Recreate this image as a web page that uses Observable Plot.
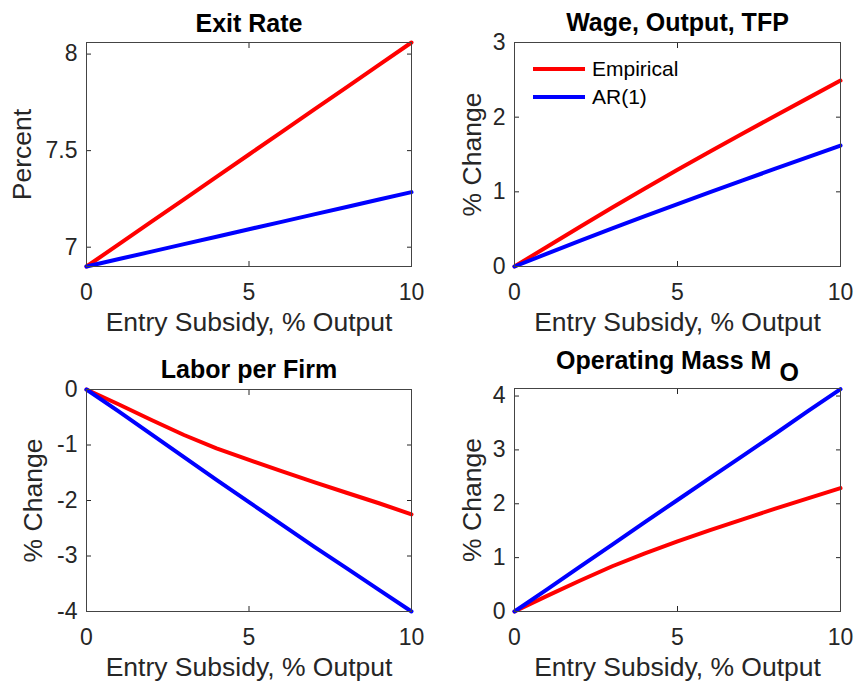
<!DOCTYPE html>
<html>
<head>
<meta charset="utf-8">
<script src="https://cdn.jsdelivr.net/npm/d3@7"></script>
<script src="https://cdn.jsdelivr.net/npm/@observablehq/plot@0.6"></script>
<style>
body { margin: 0; background: #fff; font-family: "Liberation Sans", Arial, sans-serif; }
#fig { position: relative; width: 857px; height: 681px; overflow: hidden; }
#fig svg { position: absolute; overflow: visible; }
.legend { position: absolute; font-size: 21px; color: #000; }
.legend .row { display: flex; align-items: center; height: 28px; }
.legend svg { position: static !important; margin-right: 7px; }
</style>
</head>
<body>
<div id="fig"></div>
<script>
// x values: entry subsidy, % of output
const subsidy = [0, 1, 2, 3, 4, 5, 6, 7, 8, 9, 10];
const seriesNames = ["Empirical", "AR(1)"];
const seriesColors = ["#ff0000", "#0000ff"];

// values
const exitEmpirical = [6.900, 7.016, 7.132, 7.248, 7.364, 7.480, 7.596, 7.712, 7.828, 7.944, 8.060];
const exitAR1 = [6.900, 6.939, 6.977, 7.016, 7.054, 7.093, 7.131, 7.170, 7.208, 7.247, 7.285];
const wageEmpirical = [0, 0.265, 0.53, 0.79, 1.045, 1.295, 1.54, 1.78, 2.02, 2.255, 2.49];
const wageAR1 = [0, 0.172, 0.342, 0.51, 0.675, 0.837, 0.996, 1.153, 1.31, 1.465, 1.62];
const laborEmpirical = [0, -0.27, -0.55, -0.82, -1.06, -1.27, -1.47, -1.67, -1.86, -2.05, -2.25];
const laborAR1 = [0, -0.40, -0.81, -1.22, -1.63, -2.03, -2.43, -2.83, -3.22, -3.61, -4.0];
const massEmpirical = [0, 0.29, 0.57, 0.84, 1.08, 1.30, 1.51, 1.71, 1.91, 2.10, 2.29];
const massAR1 = [0, 0.41, 0.83, 1.24, 1.66, 2.07, 2.48, 2.89, 3.30, 3.72, 4.13];

const xTicks = [0, 5, 10];
const xLabel = "Entry Subsidy, % Output";

const panels = [
  {left: 0, top: 0, title: "Exit Rate", ylabel: "Percent", yDomain: [6.9, 8.06], yTicks: [7, 7.5, 8],
   emp: exitEmpirical, ar: exitAR1, mt: 42, mb: 74, ml: 86, mr: 19, titleDy: -19, ylabDx: -64},
  {left: 430, top: 0, title: "Wage, Output, TFP", ylabel: "% Change", yDomain: [0, 3], yTicks: [0, 1, 2, 3],
   emp: wageEmpirical, ar: wageAR1, mt: 42, mb: 74, ml: 84, mr: 20, titleDy: -20, ylabDx: -42, legend: true},
  {left: 0, top: 340, title: "Labor per Firm", ylabel: "% Change", yDomain: [-4, 0], yTicks: [-4, -3, -2, -1, 0],
   emp: laborEmpirical, ar: laborAR1, mt: 49, mb: 69, ml: 86, mr: 19, titleDy: -20, ylabDx: -53},
  {left: 430, top: 340, title: "Operating Mass M", sub: "O", ylabel: "% Change", yDomain: [0, 4.14], yTicks: [0, 1, 2, 3, 4],
   emp: massEmpirical, ar: massAR1, mt: 48, mb: 69, ml: 84, mr: 20, titleDy: -28, ylabDx: -42}
];

const fig = d3.select("#fig");

panels.forEach(p => {
  const rows = [];
  subsidy.forEach((x, i) => rows.push({x, y: p.emp[i], series: seriesNames[0]}));
  subsidy.forEach((x, i) => rows.push({x, y: p.ar[i], series: seriesNames[1]}));

  const chart = Plot.plot({
    width: 430,
    height: 340,
    marginTop: p.mt,
    marginBottom: p.mb,
    marginLeft: p.ml,
    marginRight: p.mr,
    style: {fontFamily: "Liberation Sans, Arial, sans-serif", fontSize: "23px", color: "#262626", background: "transparent", overflow: "visible"},
    x: {domain: [0, 10]},
    y: {domain: p.yDomain},
    color: {domain: seriesNames, range: seriesColors},
    marks: [
      Plot.axisX(xTicks, {anchor: "bottom", tickSize: -5, tickPadding: 22, label: null, fontSize: 23}),
      Plot.axisX(xTicks, {anchor: "top", tickSize: -5, tickFormat: () => "", label: null}),
      Plot.axisY(p.yTicks, {anchor: "left", tickSize: -5, tickPadding: 14, tickFormat: d => String(d), label: null, fontSize: 23}),
      Plot.axisY(p.yTicks, {anchor: "right", tickSize: -5, tickFormat: () => "", label: null}),
      Plot.line(rows, {x: "x", y: "y", stroke: "series", z: "series", strokeWidth: 4}),
      Plot.frame({stroke: "#444", strokeWidth: 1}),
      Plot.text([p.title], {frameAnchor: "top", lineAnchor: "middle", textAnchor: "middle", dy: p.titleDy, fontSize: 25, fontWeight: "bold", fill: "#000"}),
      Plot.text([xLabel], {frameAnchor: "bottom", lineAnchor: "middle", textAnchor: "middle", dy: 56, fontSize: 26.5, fill: "#262626"}),
      Plot.text([p.ylabel], {frameAnchor: "left", lineAnchor: "middle", textAnchor: "middle", dx: p.ylabDx, rotate: -90, fontSize: 26.5, fill: "#262626"})
    ]
  });

  d3.select(chart).style("left", p.left + "px").style("top", p.top + "px");
  if (p.sub) {
    d3.select(chart).selectAll("text")
      .filter(function() { return this.textContent === p.title; })
      .append("tspan").attr("dx", 8).attr("dy", 12).text(p.sub);
  }
  fig.append(() => chart);

  if (p.legend) {
    const lg = fig.append("div").attr("class", "legend")
      .style("left", (p.left + 103) + "px").style("top", (p.top + 55) + "px");
    seriesNames.forEach((name, i) => {
      const row = lg.append("div").attr("class", "row");
      const s = row.append("svg").attr("width", 52).attr("height", 6);
      s.append("line").attr("x1", 0).attr("x2", 52).attr("y1", 3).attr("y2", 3)
        .attr("stroke", seriesColors[i]).attr("stroke-width", 4);
      row.append("span").text(name);
    });
  }
});
</script>
</body>
</html>
